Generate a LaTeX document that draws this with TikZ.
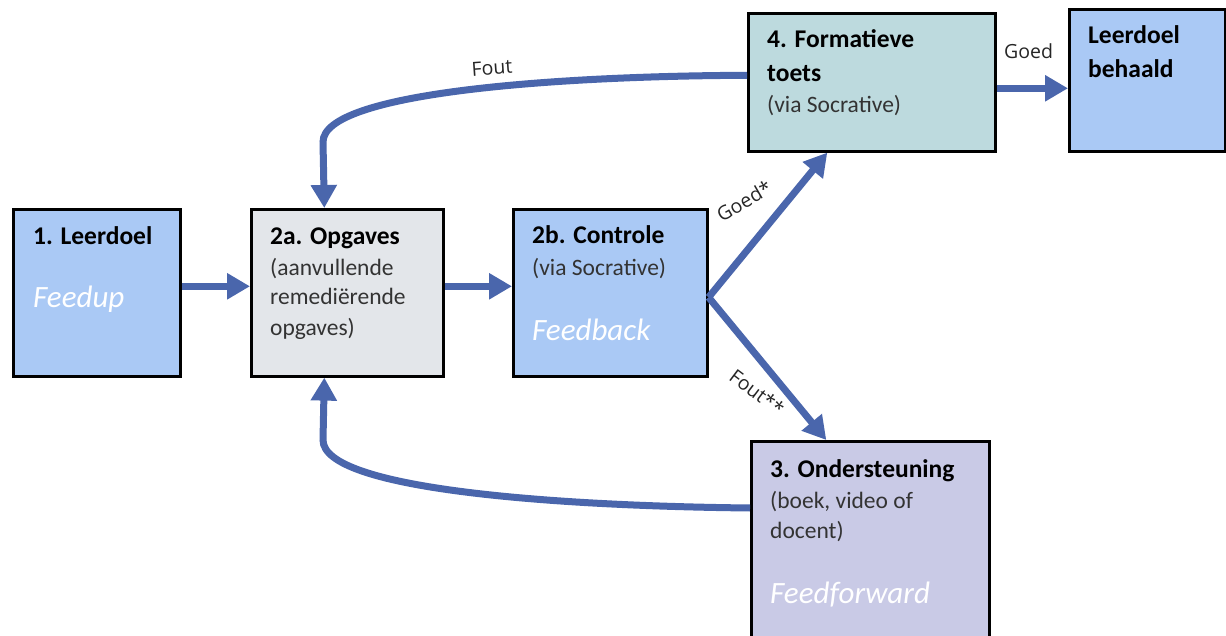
\documentclass[tikz,border=0pt]{standalone}
\usepackage{fontspec}
\setmainfont{Carlito}
\newfontfamily\labfont{Open Sans}
\usetikzlibrary{arrows.meta}
\definecolor{arrowblue}{HTML}{4A66AC}
\definecolor{boxblue}{HTML}{AAC9F5}
\definecolor{boxgray}{HTML}{E3E6EA}
\definecolor{boxteal}{HTML}{BDDADE}
\definecolor{boxlav}{HTML}{C9CAE6}
\definecolor{bodygray}{HTML}{333333}
\begin{document}
\begin{tikzpicture}[x=1pt,y=-1pt,
  box/.style={draw=black, line width=2.6pt, inner sep=0pt, anchor=north west},
  ttl/.style={anchor=base west, inner sep=0pt, font=\fontsize{25.5}{30}\selectfont\bfseries, text=black},
  bdy/.style={anchor=base west, inner sep=0pt, font=\fontsize{23.5}{30}\selectfont, text=bodygray},
  ita/.style={anchor=base west, inner sep=0pt, font=\fontsize{31}{36}\selectfont\itshape, text=white},
  lab/.style={inner sep=0pt, font=\labfont\fontsize{19.5}{22}\selectfont, text=black!85},
  arr/.style={draw=arrowblue, line width=7pt, -{Triangle[length=23pt,width=25pt]}}]
\useasboundingbox (0,0) rectangle (1226,636);
\clip (0,0) rectangle (1226,636);
% boxes
\node[box, fill=boxblue, minimum width=167pt, minimum height=167pt] (b1) at (12,208) {};
\node[box, fill=boxgray, minimum width=192pt, minimum height=167pt] (b2a) at (250,208) {};
\node[box, fill=boxblue, minimum width=194pt, minimum height=167pt] (b2b) at (512,208) {};
\node[box, fill=boxteal, minimum width=247pt, minimum height=138pt] (b4) at (747,12) {};
\node[box, fill=boxblue, minimum width=156pt, minimum height=142pt] (bl) at (1068,8) {};
\node[box, fill=boxlav, minimum width=238pt, minimum height=230pt] (b3) at (750,440) {};
% texts
\node[ttl] (t1) at (33,245) {1. Leerdoel};
\node[ita] (f1) at (33,308) {Feedup};
\node[ttl] (t2a) at (270,245) {2a. Opgaves};
\node[bdy] (t2a1) at (270,276) {(aanvullende};
\node[bdy] (t2a2) at (270,305) {remediërende};
\node[bdy] (t2a3) at (270,335) {opgaves)};
\node[ttl] (t2b) at (532,244) {2b. Controle};
\node[bdy] (t2b1) at (532,276) {(via Socrative)};
\node[ita] (f2b) at (532,341) {Feedback};
\node[ttl] (t3) at (770,477) {3. Ondersteuning};
\node[bdy] (t31) at (770,508) {(boek, video of};
\node[bdy] (t32) at (770,538) {docent)};
\node[ita] (f3) at (770,603) {Feedforward};
\node[ttl] (t4) at (767,48) {4. Formatieve};
\node[ttl] (t4b) at (767,82) {toets};
\node[bdy] (t41) at (767,113) {(via Socrative)};
\node[ttl] (tl1) at (1088,44) {Leerdoel};
\node[ttl] (tl2) at (1088,78) {behaald};
% connectors
\draw[arr] ([yshift=6.5pt]b1.east) -- ([yshift=6.5pt]b2a.west);
\draw[arr] ([yshift=6.5pt]b2a.east) -- ([yshift=6.5pt]b2b.west);
\coordinate (j) at ([yshift=-4.5pt]b2b.east);
\draw[arr] (j) -- ([xshift=-44.5pt]b4.south);
\draw[arr] (j) -- ([xshift=-44pt]b3.north);
\draw[arr] ([yshift=-6pt]b4.east) -- ([yshift=-6pt]b4.east -| bl.west);
\draw[arr] ([yshift=7pt]b4.west) .. controls (560,76) and (323,92) .. (323,142) -- ([xshift=-23pt]b2a.north);
\draw[arr] ([yshift=-68pt]b3.north west) .. controls (560,506) and (323,490) .. (323,440) -- ([xshift=-23pt]b2a.south);
% labels
\node[lab, rotate=4] (lfout) at (492,68) {Fout};
\node[lab, anchor=base west] (lgoed) at (1004,59) {Goed};
\node[lab, rotate=30] (lgoeds) at (744,201) {Goed*};
\node[lab, rotate=-37] (lfouts) at (757,392) {Fout**};
\end{tikzpicture}
\end{document}
